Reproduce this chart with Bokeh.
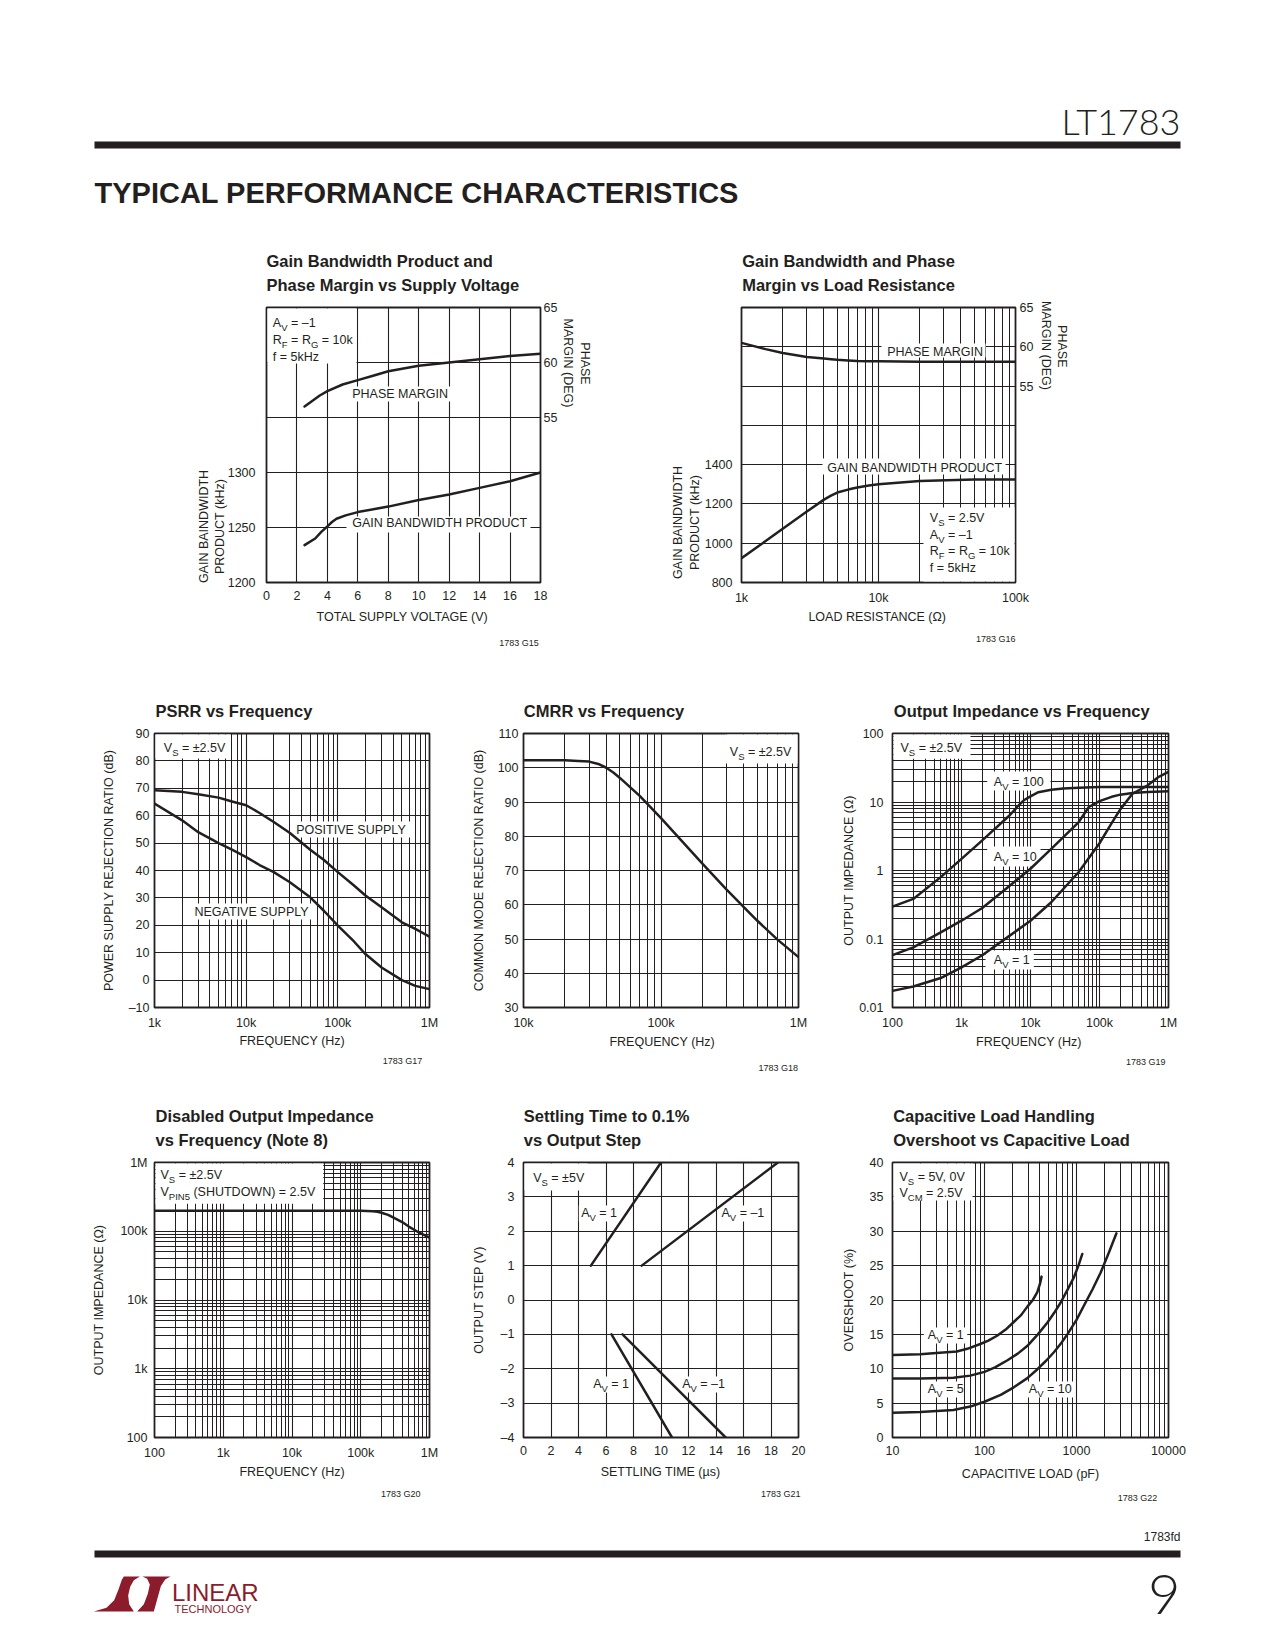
import math
from bokeh.plotting import figure
from bokeh.models import Range1d, LinearScale, LinearAxis, FixedTicker
from bokeh.layouts import column, row
from bokeh.embed import file_html
from bokeh.resources import INLINE
from bokeh.core.properties import value

# ------------------------------------------------------------------ data
# G15: GBW / phase margin vs total supply voltage
g15_vs_gbw = [2.5, 3.2, 3.6, 4.0, 4.3, 4.6, 5.2, 6, 8, 10, 12, 14, 16, 18]
g15_gbw = [1234, 1240, 1246, 1251, 1255, 1258, 1261, 1264, 1269, 1275, 1280, 1286, 1292, 1300]
g15_vs_pm = [2.5, 3, 3.5, 4, 5, 6, 7, 8, 10, 12, 14, 16, 18]
g15_pm = [56.0, 56.5, 57.0, 57.4, 58.0, 58.4, 58.8, 59.2, 59.7, 60.0, 60.3, 60.6, 60.8]
g15_xticks = [0, 2, 4, 6, 8, 10, 12, 14, 16, 18]
g15_yticks = [1200, 1250, 1300, 1350, 1400, 1450]
g15_ylabels = ["1200", "1250", "1300", "", "", ""]
g15_pmticks = [55, 60, 65]

# G16: GBW / phase margin vs load resistance
g16_rl = [1000, 1500, 2000, 3000, 4000, 4500, 5000, 6000, 7000, 8500, 10000, 20000, 50000, 100000]
g16_gbw = [924, 1011, 1074, 1161, 1222, 1242, 1258, 1273, 1284, 1294, 1300, 1317, 1324, 1324]
g16_pm = [60.5, 59.7, 59.2, 58.7, 58.5, 58.42, 58.35, 58.27, 58.2, 58.17, 58.15, 58.1, 58.1, 58.1]
g16_xticks = [1e3, 1e4, 1e5]
g16_xlabels = ["1k", "10k", "100k"]
g16_yticks = [800, 1000, 1200, 1400, 1600, 1800, 2000, 2200]
g16_ylabels = ["800", "1000", "1200", "1400", "", "", "", ""]
g16_pmticks = [55, 60, 65]

# G17: PSRR vs frequency
psrr_f = [1e3, 2e3, 3e3, 5e3, 7e3, 1e4, 1.4e4, 2e4, 3e4, 5e4, 7e4, 1e5, 1.5e5, 2e5, 3e5, 5e5, 7e5, 1e6]
psrr_pos = [69.3, 68.7, 67.8, 66.6, 65.2, 63.8, 61.0, 57.7, 53.7, 47.6, 43.9, 39.4, 34.5, 30.9, 26.6, 21.1, 18.7, 15.9]
psrr_neg = [64.4, 58.3, 54.0, 50.0, 47.6, 44.9, 42.0, 39.4, 35.7, 30.2, 25.4, 19.9, 14.1, 9.5, 4.6, 0.0, -2.1, -3.3]
psrr_xticks = [1e3, 1e4, 1e5, 1e6]
psrr_xlabels = ["1k", "10k", "100k", "1M"]
psrr_yticks = [-10, 0, 10, 20, 30, 40, 50, 60, 70, 80, 90]
psrr_ylabels = ["\u201310", "0", "10", "20", "30", "40", "50", "60", "70", "80", "90"]

# G18: CMRR vs frequency
cmrr_f = [1e4, 2e4, 2.5e4, 3e4, 3.5e4, 4e4, 4.5e4, 5e4, 7e4, 1e5, 2e5, 3e5, 5e5, 7e5, 1e6]
cmrr_db = [102.2, 102.2, 102.0, 101.8, 101.1, 100.0, 98.6, 97.1, 91.8, 85.3, 72.0, 64.4, 55.4, 49.9, 44.7]
cmrr_xticks = [1e4, 1e5, 1e6]
cmrr_xlabels = ["10k", "100k", "1M"]
cmrr_yticks = [30, 40, 50, 60, 70, 80, 90, 100, 110]

# G19: output impedance vs frequency
zo_f100 = [100, 200, 500, 1e3, 2e3, 5e3, 6.5e3, 8e3, 1e4, 1.3e4, 2e4, 3e4, 5e4, 1e5, 1e6]
zo_av100 = [0.297, 0.385, 0.80, 1.48, 2.75, 6.4, 8.6, 10.6, 12.1, 13.9, 15.1, 15.8, 16.2, 16.5, 16.5]
zo_f10 = [100, 200, 500, 1e3, 2e3, 5e3, 1e4, 2e4, 5e4, 7e4, 1e5, 1.5e5, 2e5, 3e5, 5e5, 1e6]
zo_av10 = [0.058, 0.0755, 0.125, 0.185, 0.284, 0.60, 1.06, 2.07, 5.1, 8.45, 10.3, 11.9, 12.8, 13.5, 14.0, 14.3]
zo_f1 = [100, 200, 500, 1e3, 2e3, 5e3, 1e4, 2e4, 5e4, 1e5, 1.5e5, 2e5, 3e5, 5e5, 7e5, 1e6]
zo_av1 = [0.0175, 0.0203, 0.0269, 0.0385, 0.058, 0.112, 0.185, 0.344, 0.95, 2.5, 4.9, 7.8, 13.2, 17.5, 22.8, 27.5]
zo_xticks = [1e2, 1e3, 1e4, 1e5, 1e6]
zo_xlabels = ["100", "1k", "10k", "100k", "1M"]
zo_yticks = [0.01, 0.1, 1.0, 10.0, 100.0]
zo_ylabels = ["0.01", "0.1", "1", "10", "100"]

# G20: disabled output impedance vs frequency
dz_f = [100, 1e3, 1e4, 1e5, 1.5e5, 1.75e5, 2e5, 2.5e5, 3e5, 4e5, 5e5, 7e5, 1e6]
dz_ohm = [1.98e5, 1.98e5, 1.98e5, 1.98e5, 1.96e5, 1.92e5, 1.86e5, 1.73e5, 1.58e5, 1.36e5, 1.17e5, 0.96e5, 0.81e5]
dz_yticks = [1e2, 1e3, 1e4, 1e5, 1e6]
dz_ylabels = ["100", "1k", "10k", "100k", "1M"]

# G21: settling time vs output step
st_av1_pos_t = [4.9, 10.0]
st_av1_pos_v = [1, 4]
st_avm1_pos_t = [8.6, 18.5]
st_avm1_pos_v = [1, 4]
st_av1_neg_t = [6.4, 10.8]
st_av1_neg_v = [-1, -4]
st_avm1_neg_t = [7.2, 14.7]
st_avm1_neg_v = [-1, -4]
st_xticks = [0, 2, 4, 6, 8, 10, 12, 14, 16, 18, 20]
st_yticks = [-4, -3, -2, -1, 0, 1, 2, 3, 4]
st_ylabels = ["\u20134", "\u20133", "\u20132", "\u20131", "0", "1", "2", "3", "4"]

# G22: overshoot vs capacitive load
cl_c1 = [10, 20, 30, 50, 65, 90, 110, 137, 170, 208, 250, 291, 335, 374, 400, 417]
cl_av1 = [12.0, 12.1, 12.3, 12.5, 12.9, 13.6, 14.1, 14.8, 15.7, 16.8, 17.8, 19.0, 20.0, 21.1, 22.3, 23.4]
cl_c5 = [10, 20, 46, 70, 100, 130, 176, 230, 291, 380, 481, 570, 671, 800, 937, 1050, 1157]
cl_av5 = [8.6, 8.6, 8.7, 9.0, 9.55, 10.2, 11.2, 12.2, 13.3, 15.0, 16.7, 18.1, 19.6, 21.5, 23.3, 25.0, 26.7]
cl_c10 = [10, 20, 46, 70, 100, 150, 208, 290, 374, 470, 568, 680, 795, 1000, 1206, 1500, 1832, 2250, 2717]
cl_av10 = [3.6, 3.7, 4.0, 4.5, 5.2, 6.2, 7.3, 8.6, 9.9, 11.2, 12.4, 13.7, 15.0, 17.1, 19.2, 21.6, 24.0, 26.9, 29.7]
cl_xticks = [10, 100, 1000, 10000]
cl_xlabels = ["10", "100", "1000", "10000"]
cl_yticks = [0, 5, 10, 15, 20, 25, 30, 35, 40]

# ------------------------------------------------------------------ style
FONT = "Liberation Sans, Arial, sans-serif"
THIN = "Lato Light, Liberation Sans, Arial, sans-serif"
INK = "#231f20"
LTRED = "#8c1c2c"
FS = 12.5
SUB = 9.5
TFS = 16.5
LW = 2.5

AW = {' ': 278, '!': 278, '(': 333, ')': 333, '+': 584, ',': 278, '-': 333, '.': 278,
      '/': 278, ':': 278, '=': 584, '%': 889, '\u00b1': 584, '\u2013': 556, '\u00b5': 556,
      '\u03a9': 768,
      'A': 667, 'B': 667, 'C': 722, 'D': 722, 'E': 667, 'F': 611, 'G': 778, 'H': 722,
      'I': 278, 'J': 500, 'K': 667, 'L': 556, 'M': 833, 'N': 722, 'O': 778, 'P': 667,
      'Q': 778, 'R': 722, 'S': 667, 'T': 611, 'U': 722, 'V': 667, 'W': 944, 'X': 667,
      'Y': 667, 'Z': 611, 'a': 556, 'b': 556, 'c': 500, 'd': 556, 'e': 556, 'f': 278,
      'g': 556, 'h': 556, 'i': 222, 'j': 222, 'k': 500, 'l': 222, 'm': 833, 'n': 556,
      'o': 556, 'p': 556, 'q': 556, 'r': 333, 's': 500, 't': 278, 'u': 556, 'v': 500,
      'w': 722, 'x': 500, 'y': 500, 'z': 500}


def tw(s, size):
    return sum(AW.get(c, 556) for c in s) / 1000.0 * size


def txt(p, x, y, s, size=FS, bold=False, align="left", angle=0.0, color=INK,
        page=True, mid=False, font=FONT):
    # y is the text baseline (page pixels, downwards) unless mid=True
    yc = y if mid else y - 0.35 * size
    kw = dict(x_range_name="px", y_range_name="py") if page else {}
    p.text(x=[x], y=[yc], text=[s], text_font=value(font),
           text_font_size=value(f"{size}px"),
           text_font_style=value("bold" if bold else "normal"),
           text_align=value(align), text_baseline=value("middle"),
           angle=value(angle), text_color=value(color), level="annotation", **kw)


def rich(p, x, y, parts, size=FS, sub=SUB, drop=3.5):
    cur = x
    for s, is_sub in parts:
        fs = sub if is_sub else size
        core = s.strip(" ")
        lead = len(s) - len(s.lstrip(" "))
        trail = len(s) - len(s.rstrip(" "))
        cur += tw(" " * lead, fs)
        txt(p, cur, y + (drop if is_sub else 0), core, size=fs)
        cur += tw(core, fs) + tw(" " * trail, fs)


def box(p, x0, y0, x1, y1):
    p.quad(left=[x0], right=[x1], top=[y0], bottom=[y1], fill_color="white",
           line_color=None, x_range_name="px", y_range_name="py")


def chart(fx0, fy0, w, h, L, R, T, B, xr, yr, xlog=False, ylog=False):
    p = figure(width=w, height=h, x_range=Range1d(xr[0], xr[1]), y_range=Range1d(yr[0], yr[1]),
               x_axis_type="log" if xlog else "linear",
               y_axis_type="log" if ylog else "linear",
               toolbar_location=None, output_backend="svg", title=None,
               min_border_left=L - fx0, min_border_right=fx0 + w - R,
               min_border_top=T - fy0, min_border_bottom=fy0 + h - B)
    p.extra_x_ranges = {"px": Range1d(L, R)}
    p.extra_y_ranges = {"py": Range1d(B, T)}
    p.extra_x_scales = {"px": LinearScale()}
    p.extra_y_scales = {"py": LinearScale()}
    p.outline_line_color = INK
    p.outline_line_width = 1.8
    p.outline_line_alpha = 1.0
    p.background_fill_color = "white"
    p.border_fill_color = "white"
    for g in p.grid:
        g.grid_line_color = INK
        g.grid_line_width = 1.1
        g.grid_line_alpha = 1.0
    return p


def axis_setup(ax, grid, ticks, labels=None, minor=None, standoff=8):
    t = FixedTicker(ticks=list(ticks), minor_ticks=list(minor) if minor else [])
    ax.ticker = t
    if grid is not None:
        grid.ticker = t
        if minor:
            grid.minor_grid_line_color = INK
            grid.minor_grid_line_width = 1.0
            grid.minor_grid_line_alpha = 1.0
    if labels is not None:
        ax.major_label_overrides = {tk: lb for tk, lb in zip(ticks, labels)}
    ax.major_label_text_font = FONT
    ax.major_label_text_font_size = f"{FS}px"
    ax.major_label_text_color = INK
    ax.major_label_standoff = standoff
    ax.axis_line_color = None
    ax.major_tick_line_color = None
    ax.minor_tick_line_color = None
    ax.major_tick_out = 0
    ax.major_tick_in = 0
    ax.minor_tick_out = 0
    ax.minor_tick_in = 0


def log_minor(e0, e1):
    return [m * 10.0 ** e for e in range(e0, e1) for m in range(2, 10)]


def curve(p, x, y, **kw):
    p.line(x, y, line_color=INK, line_width=LW, line_join="round", line_cap="round", **kw)


def titles(p, x, y, lines):
    for i, s in enumerate(lines):
        txt(p, x, y + i * 23.3, s, size=TFS, bold=True)


def vtitle(p, x, y, s, angle=math.pi / 2):
    txt(p, x, y, s, align="center", angle=angle, mid=True)


def xtitle(p, x, y, s):
    txt(p, x, y, s, align="center", mid=True)


def stamp(p, x, y, s):
    txt(p, x, y, s, size=9, align="right", mid=True)


# ------------------------------------------------------------------ G15
f15 = chart(0, 225, 620, 430, 266, 540, 307, 582, (0, 18), (1200, 1450))
f15.extra_y_ranges = {"py": Range1d(582, 307), "pm": Range1d(40, 65)}
axis_setup(f15.below[0], f15.xgrid[0], g15_xticks, standoff=8)
axis_setup(f15.left[0], f15.ygrid[0], g15_yticks, g15_ylabels, standoff=11)
ax = LinearAxis(y_range_name="pm")
axis_setup(ax, None, g15_pmticks, standoff=3)
f15.add_layout(ax, "right")
box(f15, 267, 308, 356, 363)
box(f15, 346, 386, 451, 401)
box(f15, 346, 516, 530, 532)
curve(f15, g15_vs_gbw, g15_gbw)
curve(f15, g15_vs_pm, g15_pm, y_range_name="pm")
titles(f15, 266, 266.7, ["Gain Bandwidth Product and", "Phase Margin vs Supply Voltage"])
rich(f15, 272.3, 327.3, [("A", 0), ("V", 1), (" = \u20131", 0)])
rich(f15, 272.3, 344.0, [("R", 0), ("F", 1), (" = R", 0), ("G", 1), (" = 10k", 0)])
rich(f15, 272.3, 360.7, [("f = 5kHz", 0)])
txt(f15, 351.7, 397.7, "PHASE MARGIN")
txt(f15, 351.7, 527.3, "GAIN BANDWIDTH PRODUCT")
vtitle(f15, 203.3, 526, "GAIN BAINDWIDTH")
vtitle(f15, 219.3, 526, "PRODUCT (kHz)")
vtitle(f15, 584.5, 363, "PHASE", -math.pi / 2)
vtitle(f15, 567.2, 362.5, "MARGIN (DEG)", -math.pi / 2)
xtitle(f15, 402, 616.7, "TOTAL SUPPLY VOLTAGE (V)")
stamp(f15, 538.3, 642.7, "1783 G15")

# ------------------------------------------------------------------ G16
f16 = chart(620, 225, 647, 430, 741, 1015, 307, 582, (1e3, 1e5), (800, 2200), xlog=True)
f16.extra_y_ranges = {"py": Range1d(582, 307), "pm": Range1d(30, 65)}
axis_setup(f16.below[0], f16.xgrid[0], g16_xticks, g16_xlabels, log_minor(3, 5), standoff=8)
axis_setup(f16.left[0], f16.ygrid[0], g16_yticks, g16_ylabels, standoff=9)
ax = LinearAxis(y_range_name="pm")
axis_setup(ax, None, g16_pmticks, standoff=4)
f16.add_layout(ax, "right")
box(f16, 881, 343, 985, 357)
box(f16, 822, 458, 1005, 474)
box(f16, 923, 507, 1014, 581)
curve(f16, g16_rl, g16_gbw)
curve(f16, g16_rl, g16_pm, y_range_name="pm")
titles(f16, 741.7, 266.7, ["Gain Bandwidth and Phase", "Margin vs Load Resistance"])
txt(f16, 886.7, 355.7, "PHASE MARGIN")
txt(f16, 826.7, 471.7, "GAIN BANDWIDTH PRODUCT")
rich(f16, 929.3, 521.7, [("V", 0), ("S", 1), (" = 2.5V", 0)])
rich(f16, 929.3, 538.7, [("A", 0), ("V", 1), (" = \u20131", 0)])
rich(f16, 929.3, 555.3, [("R", 0), ("F", 1), (" = R", 0), ("G", 1), (" = 10k", 0)])
rich(f16, 929.3, 571.7, [("f = 5kHz", 0)])
vtitle(f16, 677.5, 522, "GAIN BAINDWIDTH")
vtitle(f16, 694.2, 522, "PRODUCT (kHz)")
vtitle(f16, 1061.3, 345.8, "PHASE", -math.pi / 2)
vtitle(f16, 1045.8, 345, "MARGIN (DEG)", -math.pi / 2)
xtitle(f16, 876.7, 616, "LOAD RESISTANCE (\u03a9)")
stamp(f16, 1015, 638.3, "1783 G16")

# ------------------------------------------------------------------ G17
f17 = chart(0, 655, 450, 425, 154, 429, 733, 1007, (1e3, 1e6), (-10, 90), xlog=True)
axis_setup(f17.below[0], f17.xgrid[0], psrr_xticks, psrr_xlabels, log_minor(3, 6), standoff=8)
axis_setup(f17.left[0], f17.ygrid[0], psrr_yticks, psrr_ylabels, standoff=5)
box(f17, 155, 734, 230, 758)
box(f17, 291.7, 821, 412, 837)
box(f17, 190, 903, 313, 919)
curve(f17, psrr_f, psrr_pos)
curve(f17, psrr_f, psrr_neg)
titles(f17, 155, 716.7, ["PSRR vs Frequency"])
rich(f17, 163.3, 751.7, [("V", 0), ("S", 1), (" = \u00b12.5V", 0)])
txt(f17, 295.7, 834, "POSITIVE SUPPLY")
txt(f17, 194, 916, "NEGATIVE SUPPLY")
vtitle(f17, 108.3, 870, "POWER SUPPLY REJECTION RATIO (dB)")
xtitle(f17, 291.7, 1040.7, "FREQUENCY (Hz)")
stamp(f17, 421.7, 1060, "1783 G17")

# ------------------------------------------------------------------ G18
f18 = chart(450, 655, 365, 425, 523, 798, 733, 1007, (1e4, 1e6), (30, 110), xlog=True)
axis_setup(f18.below[0], f18.xgrid[0], cmrr_xticks, cmrr_xlabels, log_minor(4, 6), standoff=8)
axis_setup(f18.left[0], f18.ygrid[0], cmrr_yticks, standoff=5)
box(f18, 725, 734, 797, 763)
curve(f18, cmrr_f, cmrr_db)
titles(f18, 523.3, 716.7, ["CMRR vs Frequency"])
rich(f18, 729.3, 755.7, [("V", 0), ("S", 1), (" = \u00b12.5V", 0)])
vtitle(f18, 478.3, 870, "COMMON MODE REJECTION RATIO (dB)")
xtitle(f18, 661.7, 1041.7, "FREQUENCY (Hz)")
stamp(f18, 797.5, 1067, "1783 G18")

# ------------------------------------------------------------------ G19
f19 = chart(815, 655, 452, 425, 892, 1168, 733, 1007, (1e2, 1e6), (0.01, 100), xlog=True, ylog=True)
axis_setup(f19.below[0], f19.xgrid[0], zo_xticks, zo_xlabels, log_minor(2, 6), standoff=8)
axis_setup(f19.left[0], f19.ygrid[0], zo_yticks, zo_ylabels, log_minor(-2, 2), standoff=9)
box(f19, 893, 734, 970, 758.3)
box(f19, 986.7, 771, 1050, 790)
box(f19, 986.7, 846, 1040, 866)
box(f19, 985, 950, 1033.3, 969)
curve(f19, zo_f100, zo_av100)
curve(f19, zo_f10, zo_av10)
curve(f19, zo_f1, zo_av1)
titles(f19, 893.3, 716.7, ["Output Impedance vs Frequency"])
rich(f19, 900, 752.3, [("V", 0), ("S", 1), (" = \u00b12.5V", 0)])
rich(f19, 993.3, 786, [("A", 0), ("V", 1), (" = 100", 0)])
rich(f19, 993.3, 860.7, [("A", 0), ("V", 1), (" = 10", 0)])
rich(f19, 993.3, 964, [("A", 0), ("V", 1), (" = 1", 0)])
vtitle(f19, 848.3, 870, "OUTPUT IMPEDANCE (\u03a9)")
xtitle(f19, 1028.3, 1041.7, "FREQUENCY (Hz)")
stamp(f19, 1165, 1061.7, "1783 G19")

# ------------------------------------------------------------------ G20
f20 = chart(0, 1080, 450, 430, 154, 429, 1162, 1437, (1e2, 1e6), (1e2, 1e6), xlog=True, ylog=True)
axis_setup(f20.below[0], f20.xgrid[0], zo_xticks, zo_xlabels, log_minor(2, 6), standoff=8)
axis_setup(f20.left[0], f20.ygrid[0], dz_yticks, dz_ylabels, log_minor(2, 6), standoff=7)
box(f20, 155, 1163, 322.7, 1203.3)
curve(f20, dz_f, dz_ohm)
titles(f20, 155, 1121.7, ["Disabled Output Impedance", "vs Frequency (Note 8)"])
rich(f20, 160, 1179, [("V", 0), ("S", 1), (" = \u00b12.5V", 0)])
rich(f20, 160, 1195.7, [("V", 0), ("PIN5", 1), (" (SHUTDOWN) = 2.5V", 0)])
vtitle(f20, 98.3, 1299.5, "OUTPUT IMPEDANCE (\u03a9)")
xtitle(f20, 291.7, 1471.7, "FREQUENCY (Hz)")
stamp(f20, 420, 1493.3, "1783 G20")

# ------------------------------------------------------------------ G21
f21 = chart(450, 1080, 365, 430, 523, 798, 1162, 1437, (0, 20), (-4, 4))
axis_setup(f21.below[0], f21.xgrid[0], st_xticks, standoff=8)
axis_setup(f21.left[0], f21.ygrid[0], st_yticks, st_ylabels, standoff=9)
box(f21, 524, 1163, 587, 1190)
box(f21, 578.3, 1205, 618.3, 1221)
box(f21, 718.3, 1205, 766.7, 1221)
box(f21, 590, 1376, 630, 1392)
box(f21, 678.3, 1376, 726.7, 1392)
curve(f21, st_av1_pos_t, st_av1_pos_v)
curve(f21, st_avm1_pos_t, st_avm1_pos_v)
curve(f21, st_av1_neg_t, st_av1_neg_v)
curve(f21, st_avm1_neg_t, st_avm1_neg_v)
titles(f21, 523.3, 1121.7, ["Settling Time to 0.1%", "vs Output Step"])
rich(f21, 532.7, 1181.7, [("V", 0), ("S", 1), (" = \u00b15V", 0)])
rich(f21, 580.7, 1216.7, [("A", 0), ("V", 1), (" = 1", 0)])
rich(f21, 721, 1216.7, [("A", 0), ("V", 1), (" = \u20131", 0)])
rich(f21, 592.7, 1387.7, [("A", 0), ("V", 1), (" = 1", 0)])
rich(f21, 681.7, 1387.7, [("A", 0), ("V", 1), (" = \u20131", 0)])
vtitle(f21, 478.3, 1299.5, "OUTPUT STEP (V)")
xtitle(f21, 660, 1471, "SETTLING TIME (\u00b5s)")
stamp(f21, 800, 1493.3, "1783 G21")

# ------------------------------------------------------------------ G22
f22 = chart(815, 1080, 452, 430, 892, 1168, 1162, 1437, (10, 10000), (0, 40), xlog=True)
axis_setup(f22.below[0], f22.xgrid[0], cl_xticks, cl_xlabels, log_minor(1, 4), standoff=8)
axis_setup(f22.left[0], f22.ygrid[0], cl_yticks, standoff=9)
box(f22, 893, 1163, 972, 1200)
box(f22, 923.3, 1327, 966.7, 1343)
box(f22, 923.3, 1381, 963.3, 1397)
box(f22, 1025, 1381, 1073.3, 1397)
curve(f22, cl_c1, cl_av1)
curve(f22, cl_c5, cl_av5)
curve(f22, cl_c10, cl_av10)
titles(f22, 892.7, 1121.7, ["Capacitive Load Handling", "Overshoot vs Capacitive Load"])
rich(f22, 899, 1181, [("V", 0), ("S", 1), (" = 5V, 0V", 0)])
rich(f22, 899, 1196.7, [("V", 0), ("CM", 1), (" = 2.5V", 0)])
rich(f22, 927.3, 1339, [("A", 0), ("V", 1), (" = 1", 0)])
rich(f22, 927.3, 1393.3, [("A", 0), ("V", 1), (" = 5", 0)])
rich(f22, 1028.3, 1393.3, [("A", 0), ("V", 1), (" = 10", 0)])
vtitle(f22, 848.3, 1299.5, "OVERSHOOT (%)")
xtitle(f22, 1030, 1473.3, "CAPACITIVE LOAD (pF)")
stamp(f22, 1156.7, 1497, "1783 G22")


# ------------------------------------------------------------------ header / footer
def band(fy0, h):
    p = figure(width=1267, height=h, x_range=Range1d(0, 1267), y_range=Range1d(fy0 + h, fy0),
               toolbar_location=None, output_backend="svg", title=None, min_border=0,
               x_axis_location=None, y_axis_location=None)
    p.grid.visible = False
    p.outline_line_color = None
    p.background_fill_color = "white"
    p.border_fill_color = "white"
    return p


hdr = band(0, 225)
hdr.quad(left=[94], right=[1180], top=[141], bottom=[148], fill_color=INK, line_color=None)
txt(hdr, 1180, 133.3, "LT1783", size=36, align="right", page=False, font=THIN)
txt(hdr, 94, 203, "TYPICAL PERFORMANCE CHARACTERISTICS", size=29, bold=True, page=False)

ftr = band(1510, 132)
ftr.quad(left=[94], right=[1180], top=[1550], bottom=[1557], fill_color=INK, line_color=None)
txt(ftr, 1180, 1541, "1783fd", size=12, align="right", page=False)
txt(ftr, 1180, 1614, "9", size=56, align="right", page=False, font=THIN)
logo_a = [(40, 258), (78, 247), (101, 224), (114, 192), (124, 163), (130, 153), (178, 153),
          (160, 164), (149, 184), (143, 210), (146, 236), (160, 258)]
logo_b = [(186, 153), (270, 153), (254, 162), (241, 182), (220, 258), (170, 258), (190, 236),
          (202, 205), (208, 177), (200, 160)]
ftr.patches(xs=[[80 + a / 3 for a, b in logo_a], [80 + a / 3 for a, b in logo_b]],
            ys=[[1525 + b / 3 for a, b in logo_a], [1525 + b / 3 for a, b in logo_b]],
            fill_color=LTRED, line_color=None)
txt(ftr, 171.5, 1600.5, "LINEAR", size=24, color=LTRED, page=False)
txt(ftr, 174, 1612.5, "TECHNOLOGY", size=11, color=LTRED, page=False)

page = column(hdr, row(f15, f16), row(f17, f18, f19), row(f20, f21, f22), ftr)
open("out.html", "w").write(file_html(page, INLINE))
